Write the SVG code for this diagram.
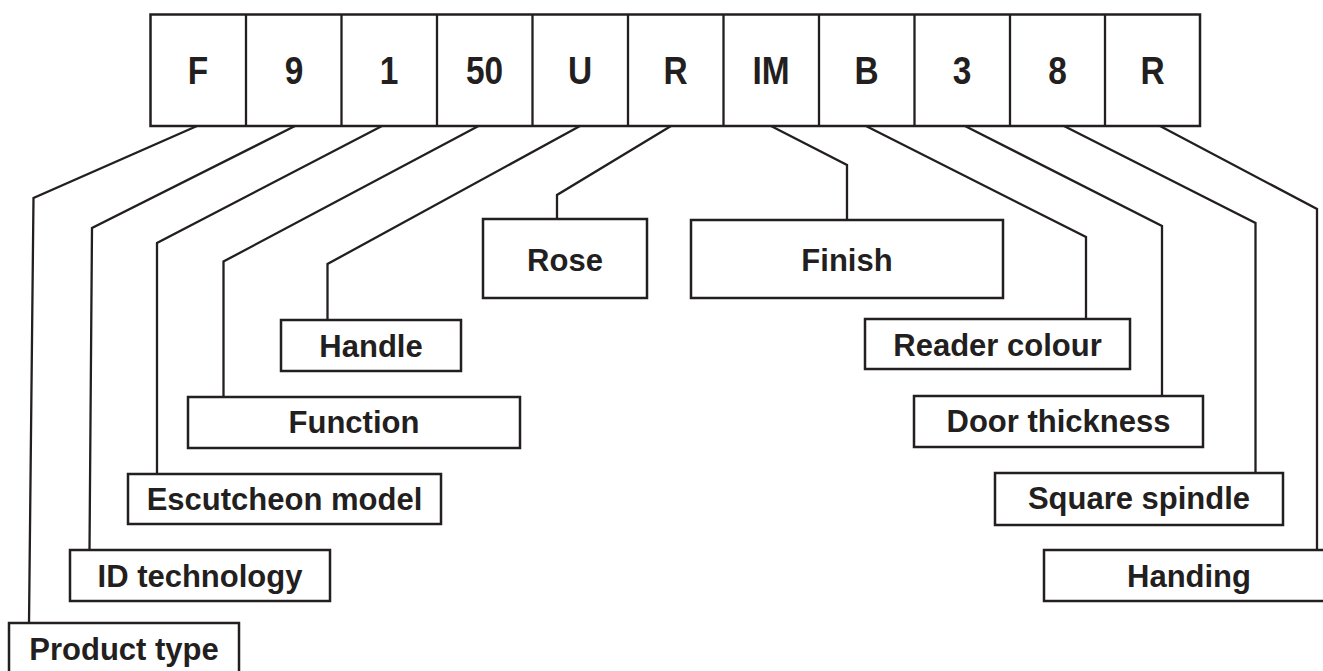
<svg xmlns="http://www.w3.org/2000/svg" width="1323" height="671" viewBox="0 0 1323 671">
<style>
.box{fill:#fff;stroke:#231f20;stroke-width:2.5}
.ln{fill:none;stroke:#231f20;stroke-width:2.3;stroke-linejoin:miter}
.code{font-family:"Liberation Sans",Arial,sans-serif;font-weight:bold;font-size:38px;fill:#231f20;text-anchor:middle}
.lbl{font-family:"Liberation Sans",Arial,sans-serif;font-weight:bold;font-size:31px;fill:#231f20;text-anchor:middle}
</style>
<rect width="1323" height="671" fill="#fff"/>
<g id="code">
<rect class="box" x="150.5" y="14.5" width="1049.5" height="111.5"/>
<path class="ln" d="M246 14.5V126M341.5 14.5V126M437 14.5V126M532.5 14.5V126M628 14.5V126M723.5 14.5V126M819 14.5V126M914.5 14.5V126M1010 14.5V126M1105 14.5V126"/>
<g transform="translate(0,84)">
<text class="code" transform="translate(198,0) scale(0.88,1)">F</text>
<text class="code" transform="translate(294,0) scale(0.88,1)">9</text>
<text class="code" transform="translate(389,0) scale(0.88,1)">1</text>
<text class="code" transform="translate(484.5,0) scale(0.88,1)">50</text>
<text class="code" transform="translate(580,0) scale(0.88,1)">U</text>
<text class="code" transform="translate(675.5,0) scale(0.88,1)">R</text>
<text class="code" transform="translate(771,0) scale(0.88,1)">IM</text>
<text class="code" transform="translate(866.5,0) scale(0.88,1)">B</text>
<text class="code" transform="translate(962,0) scale(0.88,1)">3</text>
<text class="code" transform="translate(1057.5,0) scale(0.88,1)">8</text>
<text class="code" transform="translate(1152.5,0) scale(0.88,1)">R</text>
</g>
</g>
<g id="connectors">
<path class="ln" d="M197 126L33.5 198L29 623"/>
<path class="ln" d="M295 126L92 228L89.5 550"/>
<path class="ln" d="M382 126L157 243V474"/>
<path class="ln" d="M478.5 126L223.5 261.5V397"/>
<path class="ln" d="M580 126L327.5 264V320"/>
<path class="ln" d="M671 126L557 195V219"/>
<path class="ln" d="M771 126L847 165V220"/>
<path class="ln" d="M866 126L1086 237V319"/>
<path class="ln" d="M965 126L1162 226V396"/>
<path class="ln" d="M1064 126L1255.5 223V473"/>
<path class="ln" d="M1160 126L1317 209V550"/>
</g>
<g id="rose"><rect class="box" x="483" y="219" width="164" height="79"/><text class="lbl" x="565" y="271">Rose</text></g>
<g id="finish"><rect class="box" x="691" y="220" width="312" height="78"/><text class="lbl" x="847" y="271">Finish</text></g>
<g id="handle"><rect class="box" x="281" y="320" width="180" height="51"/><text class="lbl" x="371" y="357">Handle</text></g>
<g id="function"><rect class="box" x="188" y="397" width="332" height="51"/><text class="lbl" x="354" y="433">Function</text></g>
<g id="escutcheon"><rect class="box" x="128" y="474" width="313" height="50"/><text class="lbl" x="284.5" y="510">Escutcheon model</text></g>
<g id="idtech"><rect class="box" x="70" y="550" width="260" height="51"/><text class="lbl" x="200" y="587">ID technology</text></g>
<g id="product"><rect class="box" x="9" y="623" width="230" height="52"/><text class="lbl" x="124" y="660">Product type</text></g>
<g id="reader"><rect class="box" x="865" y="319" width="265" height="50"/><text class="lbl" x="997.5" y="356">Reader colour</text></g>
<g id="door"><rect class="box" x="914" y="396" width="289" height="51"/><text class="lbl" x="1058.5" y="432">Door thickness</text></g>
<g id="spindle"><rect class="box" x="995" y="473" width="288" height="52"/><text class="lbl" x="1139" y="509">Square spindle</text></g>
<g id="handing"><rect class="box" x="1044" y="550" width="290" height="51"/><text class="lbl" x="1189" y="587">Handing</text></g>
</svg>
